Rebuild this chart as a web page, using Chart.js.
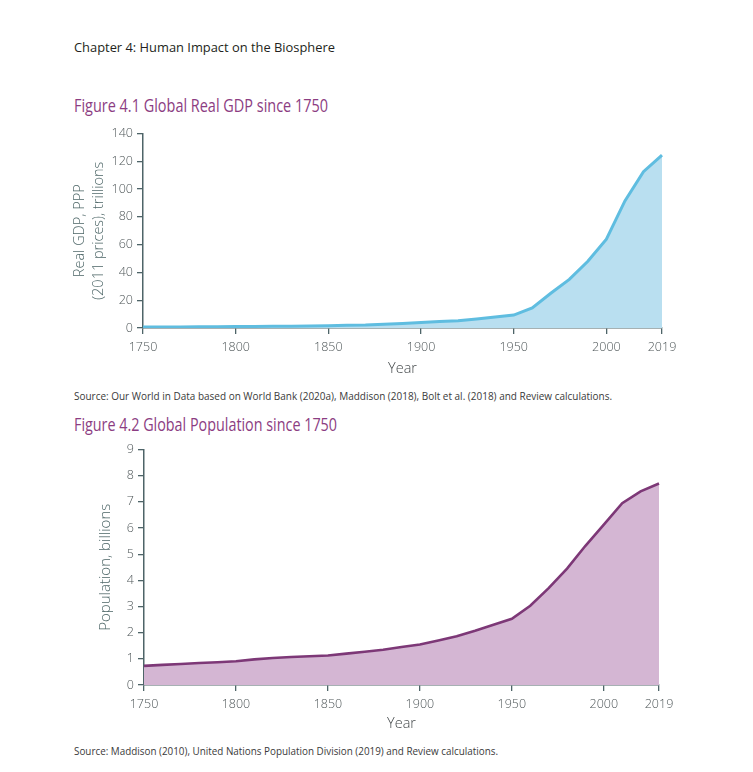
<!DOCTYPE html>
<html>
<head>
<meta charset="utf-8">
<script src="https://cdn.jsdelivr.net/npm/chart.js@4.4.1/dist/chart.umd.min.js"></script>
<style>
  html, body { margin: 0; padding: 0; background: #ffffff; }
  body { width: 753px; height: 772px; position: relative; overflow: hidden; font-family: "Open Sans", sans-serif; }
  .txt { position: absolute; white-space: nowrap; transform-origin: left center; }
  .box { position: absolute; }
</style>
</head>
<body>
<div class="txt" id="hdr" style="left:74px; top:37px; font-size:13.5px; line-height:20px; color:#231f20;">Chapter 4: Human Impact on the Biosphere</div>
<div class="txt" id="t1" style="left:74px; top:94px; font-size:18px; line-height:22px; color:#8c3d82;">Figure 4.1 Global Real GDP since 1750</div>
<div class="box" style="left:60px; top:122px; width:630px; height:258px;"><canvas id="c1"></canvas></div>
<div class="txt" id="s1" style="left:74px; top:389px; font-size:10px; line-height:14px; color:#3a3a3a;">Source: Our World in Data based on World Bank (2020a), Maddison (2018), Bolt et al. (2018) and Review calculations.</div>
<div class="txt" id="t2" style="left:74px; top:413px; font-size:18px; line-height:22px; color:#8c3d82;">Figure 4.2 Global Population since 1750</div>
<div class="box" style="left:60px; top:438px; width:630px; height:300px;"><canvas id="c2"></canvas></div>
<div class="txt" id="s2" style="left:74px; top:744px; font-size:10px; line-height:14px; color:#3a3a3a;">Source: Maddison (2010), United Nations Population Division (2019) and Review calculations.</div>

<script>
// ---- data ----
const years = [1750,1760,1770,1780,1790,1800,1810,1820,1830,1840,1850,1860,1870,1880,1890,1900,1910,1920,1930,1940,1950,1960,1970,1980,1990,2000,2010,2015,2019];
const gdpTrillions = [0.7,0.75,0.8,0.85,0.9,1.0,1.1,1.2,1.3,1.4,1.6,2.0,2.2,2.7,3.2,3.9,4.6,5.2,6.5,8.0,9.3,14.4,25,35,48,64,91.5,112.5,124.5];
const populationBillions = [0.73,0.77,0.80,0.84,0.87,0.91,0.98,1.03,1.07,1.10,1.13,1.20,1.27,1.35,1.45,1.55,1.70,1.86,2.07,2.30,2.53,3.03,3.70,4.45,5.32,6.13,6.95,7.40,7.70];
const xTickYears = [1750,1800,1850,1900,1950,2000,2019];
const gdpTicks = [0,20,40,60,80,100,120,140];
const popTicks = [0,1,2,3,4,5,6,7,8,9];

// ---- fit header texts to reference widths ----
function fitWidth(id, w) {
  const el = document.getElementById(id);
  const cur = el.getBoundingClientRect().width;
  el.style.transform = 'scaleX(' + (w / cur) + ')';
}
fitWidth('hdr', 261);
fitWidth('t1', 254);
fitWidth('t2', 263);
fitWidth('s1', 538);
fitWidth('s2', 424);

const axisColor = '#4e6468';
const tickColor = '#4f5759';
const tickFont = { family: 'Open Sans', size: 12.5, weight: 300 };

function makeChart(id, values, lineColor, fillColor, lineWidth, yMax, yStep, yTitle, yTitleCfg, layoutPad, yWidth, xHeight, xTitlePad, xTickPad) {
  return new Chart(document.getElementById(id), {
    type: 'line',
    data: {
      labels: years,
      datasets: [{
        data: values,
        borderColor: lineColor,
        backgroundColor: fillColor,
        borderWidth: lineWidth,
        fill: 'origin',
        pointRadius: 0,
        tension: 0
      }]
    },
    options: {
      responsive: true,
      maintainAspectRatio: false,
      animation: false,
      layout: { padding: layoutPad },
      plugins: { legend: { display: false }, tooltip: { enabled: false } },
      scales: {
        x: {
          type: 'category',
          offset: false,
          border: { color: axisColor, width: 1.5 },
          grid: { drawOnChartArea: false, drawTicks: true, tickLength: 6, color: axisColor, lineWidth: 1.3 },
          ticks: {
            autoSkip: false, maxRotation: 0, minRotation: 0, padding: xTickPad,
            color: tickColor, font: tickFont,
            callback: function(value) {
              const yr = years[value];
              return xTickYears.includes(yr) ? String(yr) : null;
            }
          },
          title: { display: true, text: 'Year', color: '#44494b', font: { family: 'Open Sans', size: 14.5, weight: 300 }, padding: { top: 0, bottom: xTitlePad } },
          afterFit: function(s) { s.height = xHeight; }
        },
        y: {
          min: 0, max: yMax,
          border: { color: axisColor, width: 1.5 },
          grid: { drawOnChartArea: false, drawTicks: true, tickLength: 6, color: axisColor, lineWidth: 1.3 },
          ticks: { stepSize: yStep, padding: 4, color: tickColor, font: tickFont },
          title: Object.assign({ display: true, text: yTitle, color: '#4d6667' }, yTitleCfg),
          afterFit: function(s) { s.width = yWidth; }
        }
      }
    }
  });
}

makeChart('c1', gdpTrillions, '#5fbde0', '#b9dff0', 3, gdpTicks[gdpTicks.length-1], 20,
  ['Real GDP, PPP', '(2011 prices), trillions'],
  { font: { family: 'Open Sans', size: 14.5, lineHeight: 1.35, weight: 300 }, padding: { top: 10, bottom: 0 } },
  { top: 10, right: 28, left: 0, bottom: 0 }, 83, 52, 2.6, 6);

makeChart('c2', populationBillions, '#7d3877', '#d4b6d3', 2.6, popTicks[popTicks.length-1], 1,
  'Population, billions',
  { font: { family: 'Open Sans', size: 15, lineHeight: 1.2, weight: 300 }, padding: { top: 37, bottom: 0 } },
  { top: 10, right: 31, left: 0, bottom: 0 }, 84, 53, 5.6, 6);
</script>
</body>
</html>
